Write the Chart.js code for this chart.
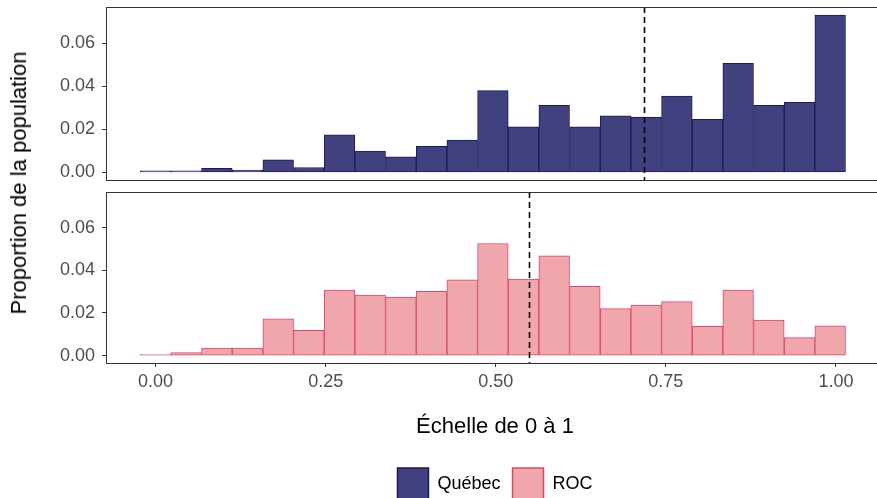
<!DOCTYPE html>
<html><head><meta charset="utf-8">
<script src="https://cdn.jsdelivr.net/npm/chart.js@4"></script>
<style>
html,body{margin:0;padding:0;background:#fff;overflow:hidden;width:877px;height:498px;}
#wrap{position:relative;width:877px;height:498px;overflow:hidden;background:#fff;}
canvas{position:absolute;left:0;}
#c1{top:0;}
#c2{top:185px;}
#ytitle{position:absolute;left:19px;top:183px;transform:translate(-50%,-50%) rotate(-90deg);font:22px "Liberation Sans",Arial,sans-serif;color:#000;white-space:nowrap;}
</style></head>
<body><div id="wrap">
<canvas id="c1" width="884" height="190"></canvas>
<canvas id="c2" width="884" height="330"></canvas>
<div id="ytitle"></div>
</div>
<script>
// ---- data ----
const binCenters = [0, 0.0451, 0.0901, 0.1352, 0.1803, 0.2254, 0.2704, 0.3155, 0.3606, 0.4056, 0.4507, 0.4958, 0.5408, 0.5859, 0.6310, 0.6761, 0.7211, 0.7662, 0.8113, 0.8563, 0.9014, 0.9465, 0.9915];
const quebecValues = [0.0007, 0.0007, 0.0019, 0.0011, 0.0059, 0.0023, 0.0175, 0.0099, 0.0073, 0.0121, 0.0150, 0.0380, 0.0212, 0.0312, 0.0212, 0.0263, 0.0257, 0.0354, 0.0247, 0.0507, 0.0312, 0.0325, 0.0731];
const rocValues = [0.0006, 0.0014, 0.0035, 0.0035, 0.0172, 0.0118, 0.0308, 0.0284, 0.0275, 0.0302, 0.0355, 0.0526, 0.0359, 0.0468, 0.0325, 0.0220, 0.0237, 0.0253, 0.0137, 0.0308, 0.0167, 0.0084, 0.0139];
const seriesNames = ['Québec', 'ROC'];
const meanValues = [0.718, 0.549];
const yTickValues = [0, 0.02, 0.04, 0.06];
const xTickValues = [0, 0.25, 0.5, 0.75, 1];
const xAxisTitle = 'Échelle de 0 à 1';
const yAxisTitle = 'Proportion de la population';

// ---- styles ----
const FAMILY = '"Liberation Sans", Arial, sans-serif';
const fills = ['#41417f', '#f0a7ab'];
const borders = ['#1b1b58', '#e0466c'];

document.getElementById('ytitle').textContent = yAxisTitle;

const panelDecor = {
  id: 'panelDecor',
  afterDatasetsDraw(chart, args, opts) {
    const {ctx, chartArea: a, scales: {x}} = chart;
    ctx.save();
    const px = Math.round(x.getPixelForValue(opts.mean)) + 0.5;
    ctx.beginPath();
    ctx.setLineDash([6, 4]);
    ctx.lineWidth = 1.6;
    ctx.strokeStyle = '#000';
    ctx.moveTo(px, a.top);
    ctx.lineTo(px, a.bottom);
    ctx.stroke();
    ctx.setLineDash([]);
    ctx.lineWidth = 1;
    ctx.strokeStyle = '#333';
    ctx.strokeRect(Math.round(a.left) + 0.5, Math.round(a.top) + 0.5, Math.round(a.width), Math.round(a.height));
    ctx.restore();
  }
};

function makeConfig(idx, isBottom) {
  const values = idx === 0 ? quebecValues : rocValues;
  return {
    type: 'bar',
    data: {
      datasets: [{
        label: seriesNames[idx],
        data: binCenters.map((c, i) => ({x: c, y: values[i]})),
        backgroundColor: fills[idx],
        borderColor: borders[idx],
        borderWidth: 1,
        borderSkipped: false,
        barPercentage: 1,
        categoryPercentage: 1
      }]
    },
    options: {
      responsive: false,
      animation: false,
      devicePixelRatio: 1,
      layout: {padding: isBottom ? {top: 7, bottom: 5, left: 0, right: 0} : {top: 7, bottom: 10, left: 0, right: 0}},
      scales: {
        x: {
          type: 'linear',
          min: -0.0728, max: 1.0706,
          offset: false,
          display: isBottom,
          grid: {display: true, drawOnChartArea: false, drawTicks: true, tickLength: 4, color: '#333', offset: false},
          border: {display: false},
          afterBuildTicks: s => { s.ticks = xTickValues.map(v => ({value: v})); },
          ticks: {padding: 4, color: '#4d4d4d', font: {family: FAMILY, size: 18}, maxRotation: 0, autoSkip: false,
                  callback: v => Number(v).toFixed(2)},
          title: {display: isBottom, text: xAxisTitle, color: '#000', font: {family: FAMILY, size: 22}, padding: {top: 0, bottom: 16}},
          afterFit: s => { if (isBottom) s.height = 93; s.paddingLeft = 0; s.paddingRight = 0; }
        },
        y: {
          min: -0.0035, max: 0.0768,
          grid: {drawOnChartArea: false, drawTicks: true, tickLength: 4, color: '#333'},
          border: {display: false},
          afterBuildTicks: s => { s.ticks = yTickValues.map(v => ({value: v})); },
          ticks: {padding: 7, color: '#4d4d4d', font: {family: FAMILY, size: 18},
                  callback: v => Number(v).toFixed(2)},
          afterFit: s => { s.width = 106; s.paddingTop = 0; s.paddingBottom = 0; }
        }
      },
      plugins: {
        tooltip: {enabled: false},
        title: {display: false},
        panelDecor: {mean: meanValues[idx]},
        legend: isBottom ? {
          display: true,
          position: 'bottom',
          fullSize: false,
          onClick: null,
          labels: {
            boxWidth: 31, boxHeight: 32, padding: 12, color: '#000',
            font: {family: FAMILY, size: 18},
            generateLabels: () => seriesNames.map((n, i) => ({
              text: n, fillStyle: fills[i], strokeStyle: borders[i], lineWidth: 1.5,
              hidden: false, datasetIndex: 0, fontColor: '#000'
            }))
          }
        } : {display: false}
      }
    },
    plugins: [panelDecor]
  };
}

new Chart(document.getElementById('c1'), makeConfig(0, false));
new Chart(document.getElementById('c2'), makeConfig(1, true));
</script>
</body></html>
